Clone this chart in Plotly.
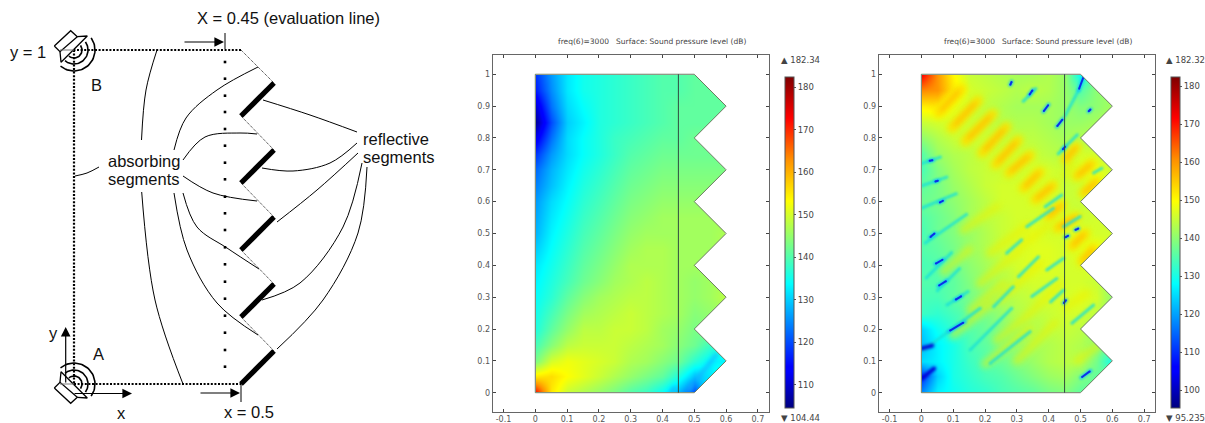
import numpy as np
import plotly.graph_objects as go

# ---------- field data ----------
grid_x = [0, .05, .10, .15, .20, .25, .30, .35, .40, .45, .50, .55, .60]
grid_y = [1, .95, .90, .85, .80, .75, .70, .65, .60, .55, .50, .45, .40, .35, .30, .25, .20, .15, .10, .05, 0]

spl_left = [
 [118,126,132,135,136,137,138,139,140,140,141,141,141],
 [116,125,132,135,136,137,138,139,140,140,141,141,141],
 [110,123,131,134,136,137,138,139,140,141,141,141,141],
 [106,120,130,133,136,137,138,139,140,141,141,141,141],
 [112,123,131,134,136,138,139,140,141,141,142,142,142],
 [118,126,131,134,136,138,140,141,142,142,142,142,142],
 [122,128,132,135,137,139,141,142,143,143,143,143,143],
 [124,129,133,136,138,140,142,143,144,144,144,144,144],
 [126,131,134,137,139,141,143,144,145,145,145,145,145],
 [127,132,135,138,140,142,144,145,146,146,146,146,146],
 [128,133,136,139,141,143,145,146,146,146,146,146,147],
 [130,134,137,140,142,144,146,147,147,146,146,146,147],
 [132,135,138,141,143,145,147,147,147,146,146,146,147],
 [133,136,139,142,144,146,147,148,147,146,145,146,147],
 [134,137,141,144,146,147,148,148,147,146,145,146,148],
 [135,139,143,146,147,148,149,148,147,146,144,145,146],
 [136,141,145,148,148,149,149,148,146,145,143,144,144],
 [139,144,148,149,149,149,148,147,146,144,142,138,136],
 [143,150,152,151,150,149,147,146,144,142,137,133,133],
 [155,156,153,151,149,147,145,143,141,136,129,132,140],
 [172,155,149,147,145,143,140,138,134,128,120,136,142],
]
spl_right = [
 [172,160,150,145,144,143,142,142,143,141,128,138,138],
 [161,160,152,146,145,144,143,144,143,141,135,140,141],
 [151,152,148,145,144,143,142,142,142,141,139,140,142],
 [145,146,146,145,144,143,143,143,142,141,141,142,143],
 [140,143,145,145,145,144,144,144,143,142,143,143,143],
 [135,141,143,144,145,145,145,145,144,143,146,146,143],
 [134,139,142,144,145,145,145,146,146,145,147,148,145],
 [136,138,141,143,145,146,146,146,146,145,145,148,146],
 [137,138,140,142,144,146,146,146,146,145,145,146,146],
 [135,137,139,142,144,145,146,146,146,146,145,146,145],
 [134,137,139,141,143,145,146,147,146,146,147,146,146],
 [135,136,138,141,143,145,146,147,147,146,147,149,146],
 [134,135,137,140,142,144,146,147,147,146,146,147,145],
 [135,135,136,139,141,143,145,146,146,146,146,145,141],
 [134,134,136,138,140,142,144,145,146,146,147,146,140],
 [133,132,134,136,138,141,143,144,145,146,146,144,141],
 [124,129,132,135,137,139,141,143,144,145,144,141,140],
 [122,127,130,134,136,138,140,142,143,144,143,140,135],
 [125,127,130,133,135,137,139,141,143,144,143,138,129],
 [110,124,130,132,134,135,137,139,141,142,139,136,138],
 [118,127,129,131,132,134,135,136,138,139,136,137,138],
]

# interference maxima of the right field: x0, y0, x1, y1
crests_strong = [
 (.053,.877,.127,.956), (.095,.830,.179,.919), (.137,.788,.226,.877),
 (.190,.752,.268,.836), (.232,.715,.305,.794), (.274,.689,.342,.747), (.321,.642,.373,.694),
 (.357,.605,.415,.652), (.399,.553,.441,.590), (.426,.516,.488,.553), (.452,.731,.488,.773),
 (.488,.679,.536,.720), (.509,.626,.551,.663), (.473,.459,.515,.501), (.504,.412,.541,.453),
]
crests_weak = [
 (.132,.511,.237,.584), (.216,.439,.331,.523), (.310,.459,.394,.521), (.184,.343,.310,.448),
 (.247,.291,.373,.406), (.331,.239,.436,.343), (.237,.165,.342,.249), (.153,.260,.258,.344),
 (.457,.270,.520,.312), (.070,.380,.150,.450), (.100,.180,.220,.280), (.200,.090,.340,.200),
 (.300,.100,.420,.220), (.490,.100,.560,.150), (.450,.680,.470,.720),
]
# interference minima of the right field
nulls_faint = [
 (.153,.134,.284,.265), (.216,.092,.342,.192), (.268,.438,.315,.480), (.305,.364,.368,.427),
 (.227,.270,.289,.333), (.347,.302,.426,.359), (.394,.385,.447,.422), (.389,.584,.441,.621),
 (.331,.521,.415,.579), (.473,.218,.541,.275), (.406,.285,.447,.322), (.541,.690,.567,.705),
 (.447,.521,.499,.553), (.015,.360,.095,.440), (.012,.470,.142,.560), (.002,.580,.110,.625),
 (.002,.650,.080,.677), (.002,.720,.060,.740), (.080,.275,.147,.318), (.050,.320,.120,.390),
 (.320,.915,.360,.955), (.430,.750,.490,.810), (.452,.870,.494,.950), (.001,.130,.185,.265),
]
nulls_deep = [
 (.085,.192,.137,.223), (.053,.335,.080,.352),
 (.106,.291,.127,.304), (.043,.404,.069,.419), (.027,.488,.043,.501), (.057,.597,.069,.603),
 (.043,.663,.053,.666), (.025,.728,.036,.730), (.279,.966,.284,.977), (.339,.935,.350,.951),
 (.383,.882,.400,.905), (.425,.835,.445,.860), (.444,.764,.452,.773), (.494,.950,.512,.998),
 (.525,.883,.532,.890), (.452,.488,.462,.493), (.483,.511,.494,.516), (.447,.281,.455,.291),
 (.502,.047,.532,.069),
]
nulls_wedge = [(.002,.045,.040,.076), (.002,.139,.034,.148)]
# minima of the left field
nulls_left = [(.428,.004,.436,.016), (.484,.006,.494,.028), (.510,.045,.570,.120)]

colorbar_ticks = [100, 110, 120, 130, 140, 150, 160, 170, 180]
x_ticks = [-.1, 0, .1, .2, .3, .4, .5, .6, .7]
x_tick_labels = ["-0.1", "0", "0.1", "0.2", "0.3", "0.4", "0.5", "0.6", "0.7"]
y_ticks = [0, .1, .2, .3, .4, .5, .6, .7, .8, .9, 1]
y_tick_labels = ["0", "0.1", "0.2", "0.3", "0.4", "0.5", "0.6", "0.7", "0.8", "0.9", "1"]
left_limits = (104.44, 182.34)
right_limits = (95.235, 182.32)
left_limit_labels = ("182.34", "104.44")
right_limit_labels = ("182.32", "95.235")
plot_title = "freq(6)=3000   Surface: Sound pressure level (dB)"
domain_outline_x = [0, .5, .6, .5, .6, .5, .6, .5, .6, .5, .6, .5, 0, 0]
domain_outline_y = [1, 1, .9, .8, .7, .6, .5, .4, .3, .2, .1, 0, 0, 1]
eval_x = .45

# ---------- schematic, in picture pixels ----------
reflective = [(274,83,241,116), (274,150,241,183), (274,217,241,250), (274,284,241,317), (274,351,241,384)]
absorbing_thin = [(241,50,274,83), (241,116,274,150), (241,183,274,217), (241,250,274,284), (241,317,274,351)]
boundary_x = [241, 74, 74, 241]
boundary_y = [50, 50, 384, 384]
eval_dots_y = [62, 78.7, 95.7, 112, 129, 145.7, 162.7, 179.3, 196.7, 213.3, 230, 247.3, 264.3, 281.7, 298.7, 315.7, 332.7, 350, 366.7]
leaders = [
 [(157,50),(146,90),(141.5,140)], [(75,176),(87,173),(99,167)], [(141.7,192),(155,300),(183,384)],
 [(174,150),(186,118),(217,90),(258,67)], [(183,160),(205,137),(240,133),(257,134)],
 [(183,176),(213,193),(257,201)], [(183,193),(197,227),(227,248),(259,269)],
 [(174,193),(187,250),(217,303),(258,335)],
 [(263,100),(310,115),(357,132)], [(262,168),(293,171),(330,163),(357,143)],
 [(277,222),(317,190),(358,153)], [(262,300),(300,283),(343,227),(362,163)],
 [(277,349),(323,300),(358,233),(367,167)],
]
speaker_box_x = [54.3, 70.7, 77.3, 60, 54.3]
speaker_box_y = [46, 30.7, 36.7, 51.7, 46]
speaker_horn_x = [77.3, 87.3, 61, 60]
speaker_horn_y = [36.7, 36, 62.3, 51.7]
arc_radii = [8, 14, 21]
labels = [
 ("X = 0.45 (evaluation line)", 288, 18), ("y = 1", 28, 52), ("B", 96, 85), ("A", 98, 354), ("y", 53, 333),
 ("x", 121, 413), ("x = 0.5", 249, 412), ("absorbing", 144, 161), ("segments", 144, 179),
 ("reflective", 396, 139), ("segments", 399, 157),
]
arrows = [(183,42,224,42), (199,393,240,393), (65.7,384,65.7,327), (73,393.5,132,393.5)]
tick_marks = [(225,33,225,49), (241,384,241,402)]

W, H = 1205, 423
jet = [[0,"#00007f"],[.11,"#0000ff"],[.125,"#0000ff"],[.375,"#00ffff"],[.5,"#80ff80"],[.625,"#ffff00"],[.75,"#ff9000"],[.875,"#ff0000"],[1,"#7f0000"]]
fig = go.Figure()

def seg_xy(segs, trim=0.0):
    xs, ys = [], []
    for x0, y0, x1, y1 in segs:
        dx, dy = x1 - x0, y1 - y0
        xs += [x0 + trim*dx, x1 - trim*dx, None]
        ys += [y0 + trim*dy, y1 - trim*dy, None]
    return xs, ys

def stripes(segs, color, width, opacity, xa, ya, trim=0.0):
    xs, ys = seg_xy(segs, trim)
    fig.add_trace(go.Scatter(x=xs, y=ys, mode="lines+markers", xaxis=xa, yaxis=ya, opacity=opacity,
                             line=dict(color=color, width=width),
                             marker=dict(color=color, size=width, line=dict(width=0)),
                             hoverinfo="skip", showlegend=False))

def schem(x, y, width=1, color="black", dash=None, shape="linear"):
    fig.add_trace(go.Scatter(x=x, y=y, mode="lines", xaxis="x", yaxis="y",
                             line=dict(color=color, width=width, dash=dash, shape=shape, smoothing=1.0),
                             hoverinfo="skip", showlegend=False))

# ---------- schematic ----------
for b in range(3):
    schem(boundary_x[b:b+2], boundary_y[b:b+2], 2.2, "black", "2px,1.6px")
for s in absorbing_thin:
    schem([s[0], s[2]], [s[1], s[3]], 1, "#222", "1px,1px")
for s in reflective:
    schem([s[0], s[2]], [s[1], s[3]], 5.2)
for pts in leaders:
    schem([p[0] for p in pts], [p[1] for p in pts], 1, "black", None, "spline")
fig.add_trace(go.Scatter(x=[225]*len(eval_dots_y), y=eval_dots_y, mode="markers", xaxis="x", yaxis="y",
                         marker=dict(symbol="square", size=2.6, color="black"), hoverinfo="skip", showlegend=False))
for s in tick_marks:
    schem([s[0], s[2]], [s[1], s[3]], 1)

for mirror in (False, True):
    fy = (lambda v: 434 - v) if mirror else (lambda v: v)
    schem(speaker_box_x, [fy(v) for v in speaker_box_y], 1.3)
    schem(speaker_horn_x, [fy(v) for v in speaker_horn_y], 1.3)
    schem([60, 74], [fy(50), fy(50)], 1, "#777")
    for r in arc_radii:
        t = np.radians(np.linspace(-35, 130, 40))
        schem(list(74 + r*np.cos(t)), [fy(v) for v in 50 + r*np.sin(t)], 1.6)

# ---------- fields ----------
def field(z, limits, xa, ya, cb_x):
    fig.add_trace(go.Heatmap(x=grid_x, y=grid_y, z=z, xaxis=xa, yaxis=ya, zmin=limits[0], zmax=limits[1],
        colorscale=jet, zsmooth="best", hoverinfo="skip",
        colorbar=dict(x=cb_x/W, xanchor="left", xpad=0, y=1-77.3/H, yanchor="top", ypad=0,
                      lenmode="pixels", len=330.7, thicknessmode="pixels", thickness=9,
                      tickvals=[t for t in colorbar_ticks if t >= limits[0]],
                      ticks="outside", ticklen=2, tickcolor="#555", tickwidth=1,
                      outlinecolor="#555", outlinewidth=1, borderwidth=0,
                      tickfont=dict(family="DejaVu Sans", size=8.5, color="#444"))))

field(spl_left, left_limits, "x2", "y2", 785.3)
field(spl_right, right_limits, "x3", "y3", 1171.3)

stripes(nulls_left, "#19a8ff", 3.5, .8, "x2", "y2")
stripes(crests_weak, "#eef000", 8, .55, "x3", "y3")
stripes(crests_strong, "#f4f000", 12, .6, "x3", "y3")
stripes(crests_strong, "#ffdc00", 8, .75, "x3", "y3", .03)
stripes(crests_strong, "#ffb000", 4, .6, "x3", "y3", .15)
stripes(nulls_faint, "#18e0d8", 3, .8, "x3", "y3")
stripes(nulls_deep, "#10c0ff", 4, .75, "x3", "y3")
stripes(nulls_deep, "#0a30e8", 2, 1, "x3", "y3", .1)
stripes(nulls_wedge, "#0000d8", 4, 1, "x3", "y3")

# ---------- axes ----------
x_range = [-.134, .735]
y_range = [-.0597, 1.0605]
ax_common = dict(showgrid=False, zeroline=False, showline=True, mirror="allticks", linecolor="#666", linewidth=1,
                 ticks="inside", ticklen=3, tickcolor="#444", tickfont=dict(family="DejaVu Sans", size=8, color="#555"))
vd = [(H-411.7)/H, (H-55)/H]
fig.update_layout(
    width=W, height=H, margin=dict(l=0, r=0, t=0, b=0), paper_bgcolor="white", plot_bgcolor="white", showlegend=False,
    xaxis=dict(domain=[0, 440/W], range=[0, 440], visible=False),
    yaxis=dict(domain=[0, 1], range=[H, 0], visible=False),
    xaxis2=dict(domain=[492.7/W, 769/W], range=x_range, anchor="y2", tickvals=x_ticks, ticktext=x_tick_labels, **ax_common),
    yaxis2=dict(domain=vd, range=y_range, anchor="x2", tickvals=y_ticks, ticktext=y_tick_labels, **ax_common),
    xaxis3=dict(domain=[878.7/W, 1155.3/W], range=x_range, anchor="y3", tickvals=x_ticks, ticktext=x_tick_labels, **ax_common),
    yaxis3=dict(domain=vd, range=y_range, anchor="x3", tickvals=y_ticks, ticktext=y_tick_labels, **ax_common),
)

# ---------- masks and outlines ----------
notches = [((.5,1),(.62,1),(.62,.88)), ((.62,.92),(.5,.8),(.62,.68)), ((.62,.72),(.5,.6),(.62,.48)),
           ((.62,.52),(.5,.4),(.62,.28)), ((.62,.32),(.5,.2),(.62,.08)), ((.5,0),(.62,0),(.62,.12))]
for xr, yr in (("x2", "y2"), ("x3", "y3")):
    for a, b, c in notches:
        fig.add_shape(type="path", path=f"M{a[0]},{a[1]} L{b[0]},{b[1]} L{c[0]},{c[1]} Z", xref=xr, yref=yr,
                      fillcolor="white", line=dict(width=0), layer="above")
    for rect in ((-.03,-.03,.002,1.03), (-.03,.998,.63,1.03), (-.03,-.03,.63,.002), (.598,-.03,.63,1.03)):
        fig.add_shape(type="rect", x0=rect[0], y0=rect[1], x1=rect[2], y1=rect[3], xref=xr, yref=yr,
                      fillcolor="white", line=dict(width=0), layer="above")
    path = "M" + " L".join(f"{a},{b}" for a, b in zip(domain_outline_x, domain_outline_y))
    fig.add_shape(type="path", path=path, xref=xr, yref=yr, line=dict(color="#6a7a60", width=1), layer="above")
    fig.add_shape(type="line", x0=eval_x, x1=eval_x, y0=0, y1=1, xref=xr, yref=yr,
                  line=dict(color="#2f4a40", width=1), layer="above")

# ---------- text ----------
def note(text, x, y, xref, yref, size, color, family, anchor="center"):
    fig.add_annotation(text=text, x=x, y=y, xref=xref, yref=yref, showarrow=False, xanchor=anchor, yanchor="middle",
                       font=dict(size=size, color=color, family=family))

for t, x, y in labels:
    note(t, x, y, "x", "y", 16.5, "#111", "Liberation Sans")
for s in arrows:
    fig.add_annotation(x=s[2], y=s[3], ax=s[0], ay=s[1], xref="x", yref="y", axref="x", ayref="y", text="",
                       showarrow=True, arrowhead=2, arrowsize=1.6, arrowwidth=1.2, arrowcolor="black", standoff=0)

for cx, cb, lims in ((651.7, 787, left_limit_labels), (1037.5, 1172, right_limit_labels)):
    note(plot_title, cx/W, 1-41/H, "paper", "paper", 7.5, "#444", "DejaVu Sans")
    note("\u25b2 " + lims[0], (cb-8)/W, 1-59.5/H, "paper", "paper", 8.5, "#444", "DejaVu Sans", "left")
    note("\u25bc " + lims[1], (cb-8)/W, 1-418/H, "paper", "paper", 8.5, "#444", "DejaVu Sans", "left")

# soften the interference stripes the way the rendered field is soft
soften = """
document.body.style.margin='0';
var blurs={'x2y2':[2],'x3y3':[3,3.5,2.5,2.5,1.3,1.3,0.5,1.5]};
Object.keys(blurs).forEach(function(k){
  var ts=document.querySelectorAll('.subplot.'+k+' .scatterlayer .trace');
  ts.forEach(function(t,i){ if(blurs[k][i]!==undefined){ t.style.filter='blur('+blurs[k][i]+'px)'; } });
});
"""
fig.write_html("out.html", config={"displayModeBar": False}, post_script=soften)
